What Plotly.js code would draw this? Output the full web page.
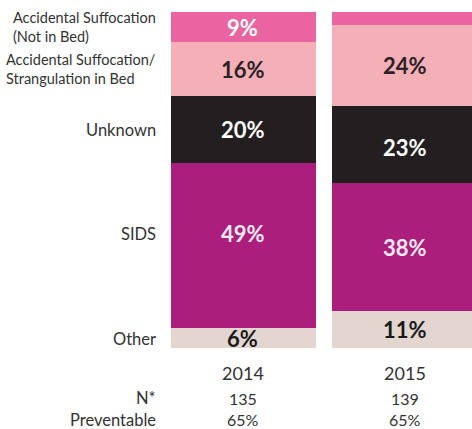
<!DOCTYPE html>
<html><head><meta charset="utf-8">
<script src="https://cdn.plot.ly/plotly-3.0.1.min.js"></script>
<style>html,body{margin:0;padding:0;background:#fff;}#chart{width:472px;height:429px;}</style>
</head><body><div id="chart"></div>
<script>
const years = ['2014', '2015'];
const categories = ['Other', 'SIDS', 'Unknown', 'Accidental Suffocation/<br>Strangulation in Bed', 'Accidental Suffocation<br>(Not in Bed)'];
const other = [6, 11];
const sids = [49, 38];
const unknown = [20, 23];
const inBed = [16, 24];
const notInBed = [9, 4];
const showLabel = [[true, true], [true, true], [true, true], [true, true], [true, false]];
const nValues = ['135', '139'];
const preventable = ['65%', '65%'];
const rowLabels = ['N*', 'Preventable'];

const series = [other, sids, unknown, inBed, notInBed];
const colors = ['#E3D6D0', '#AB1E7B', '#231F20', '#F5AFB6', '#EA64A0'];
const textColors = ['#1a1a1a', '#FBE9F3', '#FFFFFF', '#2a2226', '#FFFFFF'];
const labelShift = [[-1, 0], [12, 0], [0, -3], [0, 0], [0, 0]];
const leftSize = [16.5, 16.5, 16.5, 14.5, 14.5];
const FONT = 'Lato, "Open Sans", sans-serif';

const traces = series.map((vals, i) => ({
  type: 'bar', x: years, y: vals, name: categories[i],
  marker: {color: colors[i], line: {width: 0}},
  hoverinfo: 'skip'
}));

const annotations = [];
const cum = [0, 0];
series.forEach((vals, i) => {
  vals.forEach((v, j) => {
    const mid = cum[j] + v / 2;
    if (showLabel[i][j]) {
      annotations.push({x: j, y: mid, xref: 'x', yref: 'y', text: '<b>' + v + '%</b>',
        showarrow: false, yshift: labelShift[i][j],
        font: {family: FONT, size: 22, color: textColors[i]}});
    }
    if (j === 0) {
      annotations.push({x: 0, y: mid, xref: 'paper', yref: 'y', text: categories[i],
        showarrow: false, xanchor: 'right', align: 'left', xshift: -13, yshift: labelShift[i][j],
        font: {family: FONT, size: leftSize[i], color: '#333333'}});
    }
    cum[j] += v;
  });
});

[nValues, preventable].forEach((row, r) => {
  const yPix = [398, 420][r];
  const yPaper = (429 - 81 - yPix) / 336;
  annotations.push({x: 0, y: yPaper, xref: 'paper', yref: 'paper', text: rowLabels[r],
    showarrow: false, xanchor: 'right', xshift: -13, yanchor: 'middle',
    font: {family: FONT, size: 16.5, color: '#333333'}});
  row.forEach((t, j) => {
    annotations.push({x: j, y: yPaper, xref: 'x', yref: 'paper', text: t,
      showarrow: false, yanchor: 'middle',
      font: {family: FONT, size: 16, color: '#333333'}});
  });
});

const layout = {
  width: 472, height: 429,
  margin: {l: 171, r: 0, t: 12, b: 81},
  paper_bgcolor: '#ffffff', plot_bgcolor: '#ffffff',
  barmode: 'stack', bargap: 0.1,
  showlegend: false,
  xaxis: {type: 'category', range: [-0.444, 1.414], showgrid: false, zeroline: false, showline: false,
    ticks: 'outside', ticklen: 9, tickcolor: 'rgba(0,0,0,0)',
    tickfont: {family: FONT, size: 18, color: '#333333'}, fixedrange: true},
  yaxis: {range: [0, 100], showgrid: false, zeroline: false, showline: false, showticklabels: false, fixedrange: true},
  annotations: annotations,
  font: {family: FONT}
};

Plotly.newPlot('chart', traces, layout, {displayModeBar: false, staticPlot: true});
</script></body></html>
